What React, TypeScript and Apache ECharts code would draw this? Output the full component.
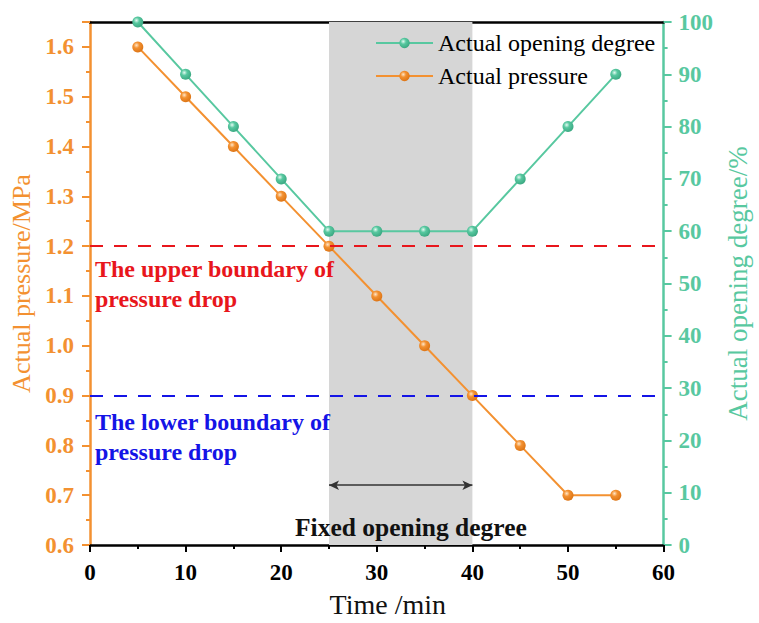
import React, { useEffect, useRef } from "react";
import * as echarts from "echarts";

const timeMin = [5, 10, 15, 20, 25, 30, 35, 40, 45, 50, 55];
const pressure = [1.6, 1.5, 1.4, 1.3, 1.2, 1.1, 1.0, 0.9, 0.8, 0.7, 0.7];
const opening = [100, 90, 80, 70, 60, 60, 60, 60, 70, 80, 90];
const upperBoundary = 1.2;
const lowerBoundary = 0.9;
const fixedStart = 25;
const fixedEnd = 40;
const arrowLevel = 0.72;

const ORANGE = "#F39131";
const GREEN = "#58C8A0";
const FONT = "Liberation Serif";

function ball(c0: string, c1: string, c2: string) {
  return new echarts.graphic.RadialGradient(0.38, 0.35, 0.75, [
    { offset: 0, color: c0 },
    { offset: 0.35, color: c1 },
    { offset: 1, color: c2 },
  ]);
}

export default function App() {
  const ref = useRef<HTMLDivElement>(null);
  useEffect(() => {
    if (!ref.current) return;
    const chart = echarts.init(ref.current, null, { renderer: "svg" });
    const pData = timeMin.map((t, i) => [t, pressure[i]]);
    const oData = timeMin.map((t, i) => [t, opening[i]]);
    chart.setOption({
      animation: false,
      backgroundColor: "#ffffff",
      textStyle: { fontFamily: FONT },
      grid: { left: 90, right: 87, top: 22, bottom: 73, containLabel: false },
      legend: {
        left: 370,
        top: 26,
        orient: "vertical",
        itemWidth: 57,
        itemHeight: 13,
        itemGap: 9,
        data: ["Actual opening degree", "Actual pressure"],
        textStyle: { fontFamily: FONT, fontSize: 24, color: "inherit" },
      },
      xAxis: [
        {
          type: "value",
          min: 0,
          max: 60,
          interval: 10,
          position: "bottom",
          name: "Time /min",
          nameLocation: "middle",
          nameGap: 45,
          nameTextStyle: { fontFamily: FONT, fontSize: 28, color: "#111", padding: [0, 0, 0, 22] },
          axisLine: { show: true, onZero: false, lineStyle: { color: "#000", width: 2.5 } },
          axisTick: { show: true, length: 7, lineStyle: { color: "#000", width: 2 } },
          minorTick: { show: true, splitNumber: 2, length: 4, lineStyle: { color: "#000", width: 2 } },
          splitLine: { show: false },
          axisLabel: { fontFamily: FONT, fontSize: 23, fontWeight: "bold", color: "#000", margin: 16 },
        },
        {
          type: "value",
          min: 0,
          max: 60,
          position: "top",
          axisLine: { show: true, onZero: false, lineStyle: { color: "#000", width: 2.5 } },
          axisTick: { show: false },
          axisLabel: { show: false },
          splitLine: { show: false },
        },
      ],
      yAxis: [
        {
          type: "value",
          min: 0.6,
          max: 1.65,
          interval: 0.1,
          position: "left",
          name: "Actual pressure/MPa",
          nameLocation: "middle",
          nameRotate: 90,
          nameGap: 53,
          nameTextStyle: { fontFamily: FONT, fontSize: 26, color: ORANGE },
          axisLine: { show: true, onZero: false, lineStyle: { color: ORANGE, width: 2.5 } },
          axisTick: { show: true, length: 8, lineStyle: { color: ORANGE, width: 2 } },
          minorTick: { show: true, splitNumber: 2, length: 4, lineStyle: { color: ORANGE, width: 2 } },
          splitLine: { show: false },
          axisLabel: {
            fontFamily: FONT,
            fontSize: 23,
            fontWeight: "bold",
            color: ORANGE,
            margin: 16,
            formatter: (v: number) => (v > 1.61 ? "" : v.toFixed(1)),
          },
        },
        {
          type: "value",
          min: 0,
          max: 100,
          interval: 10,
          position: "right",
          name: "Actual opening degree/%",
          nameLocation: "middle",
          nameRotate: 90,
          nameGap: 59,
          nameTextStyle: { fontFamily: FONT, fontSize: 27, color: GREEN },
          axisLine: { show: true, onZero: false, lineStyle: { color: GREEN, width: 2.5 } },
          axisTick: { show: true, length: 8, lineStyle: { color: GREEN, width: 2 } },
          minorTick: { show: true, splitNumber: 2, length: 4, lineStyle: { color: GREEN, width: 2 } },
          splitLine: { show: false },
          axisLabel: { fontFamily: FONT, fontSize: 23, fontWeight: "bold", color: GREEN, margin: 15 },
        },
      ],
      series: [
        {
          name: "Actual opening degree",
          type: "line",
          xAxisIndex: 0,
          yAxisIndex: 1,
          data: oData,
          clip: false,
          symbol: "circle",
          symbolSize: 11,
          z: 4,
          lineStyle: { color: GREEN, width: 2 },
          itemStyle: { color: ball("#e4fbf2", GREEN, "#35a27c") },
        },
        {
          name: "Actual pressure",
          type: "line",
          xAxisIndex: 0,
          yAxisIndex: 0,
          data: pData,
          clip: false,
          symbol: "circle",
          symbolSize: 11,
          z: 4,
          lineStyle: { color: ORANGE, width: 2 },
          itemStyle: { color: ball("#ffe6c8", ORANGE, "#d86f10") },
          markArea: {
            silent: true,
            itemStyle: { color: "#d6d6d6" },
            data: [[{ xAxis: fixedStart }, { xAxis: fixedEnd }]],
          },
          markLine: {
            silent: true,
            symbol: "none",
            label: { show: false },
            data: [
              { yAxis: upperBoundary, lineStyle: { color: "#E8161C", width: 2, type: [13, 11] } },
              { yAxis: lowerBoundary, lineStyle: { color: "#1414E6", width: 2, type: [13, 11] } },
              [
                { coord: [fixedStart, arrowLevel], symbol: "arrow", symbolSize: [7, 10] },
                {
                  coord: [fixedEnd, arrowLevel],
                  symbol: "arrow",
                  symbolSize: [7, 10],
                  lineStyle: { color: "#333", width: 1.5, type: "solid" },
                },
              ],
            ],
          },
        },
      ],
      graphic: [
        {
          type: "text",
          left: 95,
          top: 254,
          z: 100,
          style: {
            text: "The upper boundary of\npressure drop",
            fontFamily: FONT,
            fontSize: 24,
            fontWeight: "bold",
            fill: "#E8161C",
            lineHeight: 30,
          },
        },
        {
          type: "text",
          left: 95,
          top: 407,
          z: 100,
          style: {
            text: "The lower boundary of\npressure drop",
            fontFamily: FONT,
            fontSize: 24,
            fontWeight: "bold",
            fill: "#1414E6",
            lineHeight: 30,
          },
        },
        {
          type: "text",
          left: 295,
          top: 514,
          z: 100,
          style: {
            text: "Fixed opening degree",
            fontFamily: FONT,
            fontSize: 25.5,
            fontWeight: "bold",
            fill: "#111",
          },
        },
      ],
    });
    return () => chart.dispose();
  }, []);
  return (
    <div
      ref={ref}
      style={{ position: "fixed", left: 0, top: 0, width: 759, height: 623 }}
    />
  );
}
